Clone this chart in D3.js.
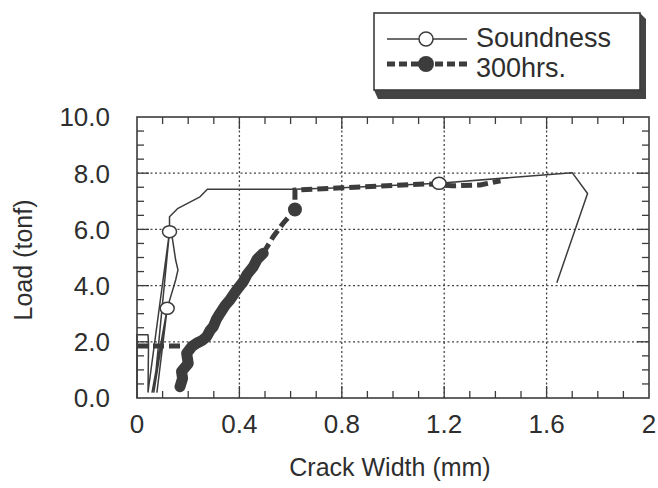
<!DOCTYPE html>
<html>
<head>
<meta charset="utf-8">
<script src="https://cdn.jsdelivr.net/npm/d3@7"></script>
<style>
  body { margin: 0; background: #fff; }
  text { font-family: "Liberation Sans", Arial, sans-serif; fill: #2e2e2e; }
</style>
</head>
<body>
<div id="chart"></div>
<script>
// axis ticks
var xTicks = [0, 0.4, 0.8, 1.2, 1.6, 2];
var xTickLabels = ["0", "0.4", "0.8", "1.2", "1.6", "2"];
var yTicks = [0, 2, 4, 6, 8, 10];
var yTickLabels = ["0.0", "2.0", "4.0", "6.0", "8.0", "10.0"];

// Soundness: [crack width, load]
var soundness = [[0, 0], [0, 2.25], [0.043, 2.25], [0.045, 1.95], [0.043, 0.21],
  [0.127, 5.92], [0.066, 0.21], [0.118, 3.19], [0.059, 0.21], [0.118, 3.19],
  [0.078, 0.21], [0.118, 3.19], [0.151, 4.2], [0.16, 4.56], [0.151, 4.91],
  [0.138, 5.69], [0.127, 5.92], [0.127, 6.45], [0.16, 6.75], [0.246, 7.16],
  [0.275, 7.43], [0.61, 7.43], [0.8, 7.48], [1.18, 7.64], [1.70, 8.02],
  [1.76, 7.28], [1.64, 4.10]];
var soundMarks = [[0.118, 3.19], [0.127, 5.92], [1.18, 7.64]];

// 300hrs: dashed parts and the dense cluster of readings
var hrsStart = [[0, 1.85], [0.18, 1.85]];
var hrsCluster = [[0.168, 0.40], [0.178, 0.70], [0.174, 0.94], [0.2, 1.23], [0.194, 1.59],
  [0.214, 1.83], [0.233, 1.95], [0.255, 2.05], [0.272, 2.18], [0.285, 2.4],
  [0.298, 2.54], [0.31, 2.8], [0.324, 3.01], [0.345, 3.3], [0.363, 3.49],
  [0.389, 3.84], [0.415, 4.14], [0.43, 4.4], [0.454, 4.67], [0.47, 4.95], [0.493, 5.15]];
var hrsEnd = [[0.493, 5.15], [0.532, 5.74], [0.571, 6.22], [0.617, 6.71], [0.617, 7.40],
  [0.8, 7.48], [1.13, 7.62], [1.23, 7.55], [1.34, 7.58], [1.42, 7.73]];
var hrsMarks = [[0.617, 6.71]];

var svg = d3.select("#chart").append("svg")
  .attr("width", 658).attr("height", 488);

var x = d3.scaleLinear().domain([0, 2]).range([137, 649]);
var y = d3.scaleLinear().domain([0, 10]).range([398, 117]);
var ink = "#3c3c3c";

// dotted grid
svg.selectAll(".vgrid").data([0.4, 0.8, 1.2, 1.6]).enter().append("line")
  .attr("x1", d => x(d)).attr("x2", d => x(d))
  .attr("y1", y(0)).attr("y2", y(10))
  .attr("stroke", "#444").attr("stroke-width", 1.3).attr("stroke-dasharray", "2,2.5");
svg.selectAll(".hgrid").data([2, 4, 6, 8]).enter().append("line")
  .attr("x1", x(0)).attr("x2", x(2))
  .attr("y1", d => y(d)).attr("y2", d => y(d))
  .attr("stroke", "#444").attr("stroke-width", 1.3).attr("stroke-dasharray", "2,2.5");

// inward ticks on all four sides
var xMinor = d3.range(0.1, 2, 0.1);
var yMinor = d3.range(0.5, 10, 0.5);
function tickLen(v, step) { return Math.abs(v / step - Math.round(v / step)) < 1e-6 ? 12 : 7; }
var axisG = svg.append("g").attr("stroke", ink).attr("stroke-width", 1.3);
xMinor.forEach(function (v) {
  var l = tickLen(v, 0.4);
  axisG.append("line").attr("x1", x(v)).attr("x2", x(v)).attr("y1", y(0)).attr("y2", y(0) - l);
  axisG.append("line").attr("x1", x(v)).attr("x2", x(v)).attr("y1", y(10)).attr("y2", y(10) + l);
});
yMinor.forEach(function (v) {
  var l = tickLen(v, 2);
  axisG.append("line").attr("x1", x(0)).attr("x2", x(0) + l).attr("y1", y(v)).attr("y2", y(v));
  axisG.append("line").attr("x1", x(2)).attr("x2", x(2) - l).attr("y1", y(v)).attr("y2", y(v));
});
svg.append("rect")
  .attr("x", x(0)).attr("y", y(10))
  .attr("width", x(2) - x(0)).attr("height", y(0) - y(10))
  .attr("fill", "none").attr("stroke", ink).attr("stroke-width", 1.6);

// tick labels
svg.selectAll(".xl").data(xTicks).enter().append("text")
  .attr("x", d => x(d)).attr("y", 433)
  .attr("text-anchor", "middle").attr("font-size", 26)
  .text((d, i) => xTickLabels[i]);
svg.selectAll(".yl").data(yTicks).enter().append("text")
  .attr("x", 110).attr("y", d => y(d)).attr("dy", "0.36em")
  .attr("text-anchor", "end").attr("font-size", 26)
  .text((d, i) => yTickLabels[i]);

svg.append("text").attr("x", 390).attr("y", 476)
  .attr("text-anchor", "middle").attr("font-size", 25).text("Crack Width (mm)");
svg.append("text").attr("transform", "translate(32,260) rotate(-90)")
  .attr("text-anchor", "middle").attr("font-size", 25).text("Load (tonf)");

var line = d3.line().x(d => x(d[0])).y(d => y(d[1]));

// 300hrs
svg.append("path").datum(hrsStart).attr("d", line)
  .attr("fill", "none").attr("stroke", ink).attr("stroke-width", 5)
  .attr("stroke-dasharray", "11,5");
svg.append("path").datum(hrsCluster).attr("d", line)
  .attr("fill", "none").attr("stroke", ink).attr("stroke-width", 11)
  .attr("stroke-linejoin", "round").attr("stroke-linecap", "round");
svg.append("path").datum(hrsEnd).attr("d", line)
  .attr("fill", "none").attr("stroke", ink).attr("stroke-width", 5)
  .attr("stroke-dasharray", "11,5");

// Soundness
svg.append("path").datum(soundness).attr("d", line)
  .attr("fill", "none").attr("stroke", ink).attr("stroke-width", 1.5)
  .attr("stroke-linejoin", "round");

svg.selectAll(".sm").data(soundMarks).enter().append("ellipse")
  .attr("cx", d => x(d[0])).attr("cy", d => y(d[1]))
  .attr("rx", 7).attr("ry", 6)
  .attr("fill", "#fff").attr("stroke", ink).attr("stroke-width", 1.5);
svg.selectAll(".hm").data(hrsMarks).enter().append("circle")
  .attr("cx", d => x(d[0])).attr("cy", d => y(d[1])).attr("r", 7)
  .attr("fill", ink);

// legend with drop shadow
var lg = svg.append("g");
lg.append("path")
  .attr("d", "M374,90 L640,90 L640,13 L646,19 L646,99 L378,99 Z")
  .attr("fill", "#444");
lg.append("rect").attr("x", 374).attr("y", 13).attr("width", 266).attr("height", 77)
  .attr("fill", "#fff").attr("stroke", ink).attr("stroke-width", 1.6);
lg.append("line").attr("x1", 387).attr("x2", 467).attr("y1", 39).attr("y2", 39)
  .attr("stroke", ink).attr("stroke-width", 1.5);
lg.append("circle").attr("cx", 426).attr("cy", 39).attr("r", 7)
  .attr("fill", "#fff").attr("stroke", ink).attr("stroke-width", 1.5);
lg.append("line").attr("x1", 387).attr("x2", 467).attr("y1", 64).attr("y2", 64)
  .attr("stroke", ink).attr("stroke-width", 5).attr("stroke-dasharray", "8,4");
lg.append("circle").attr("cx", 426).attr("cy", 64).attr("r", 8).attr("fill", ink);
lg.append("text").attr("x", 476).attr("y", 47).attr("font-size", 27).text("Soundness");
lg.append("text").attr("x", 476).attr("y", 77).attr("font-size", 27).text("300hrs.");
</script>
</body>
</html>
